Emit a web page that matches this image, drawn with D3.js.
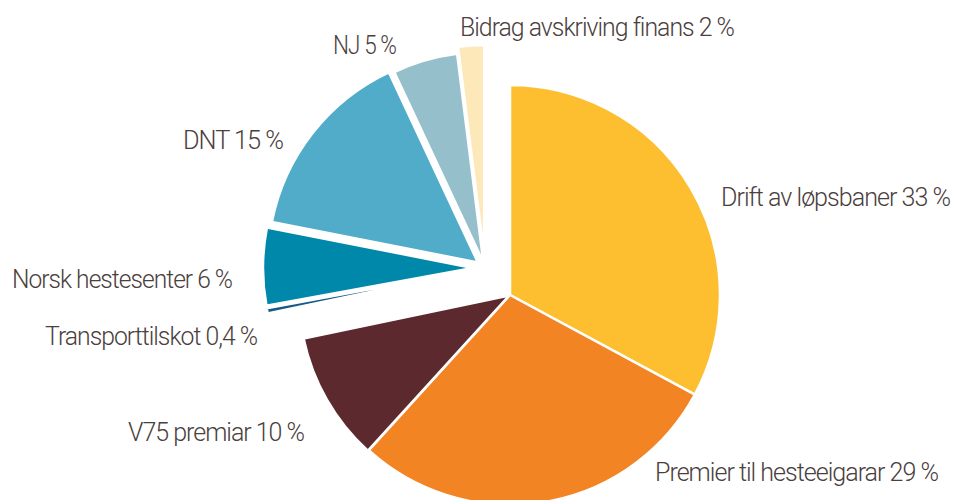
<!DOCTYPE html>
<html>
<head>
<meta charset="utf-8">
<script src="https://cdn.jsdelivr.net/npm/d3@7"></script>
<style>
  body { margin: 0; background: #fff; }
  text { font-family: Roboto, "Open Sans", sans-serif; font-weight: 300; fill: #4a403d; letter-spacing: -1px; }
</style>
</head>
<body>
<svg id="svg" width="953" height="500"></svg>
<script>
var svg = d3.select("#svg");

// data
var categories = ["Drift av løpsbaner", "Premier til hesteeigarar", "V75 premiar", "Transporttilskot",
                  "Norsk hestesenter", "DNT", "NJ", "Bidrag avskriving finans"];
var shares = [33, 29, 10, 0.4, 6, 15, 5, 2];
var shareLabels = ["33 %", "29 %", "10 %", "0,4 %", "6 %", "15 %", "5 %", "2 %"];
var colors = ["#fdbf2f", "#f38423", "#5c292e", "#125c86", "#0088ab", "#50acc8", "#95bfcb", "#fde8ba"];

// layout
var cx = 510, cy = 295, radius = 210;
var groupShift = [-25, -27];          // the detached group of small items
var detached = [3, 4, 5, 6, 7];
var explode = [0, 0, 1, 12, 12, 9, 6, 13];
var labelPos = [
  [721, 206, 229], [655, 481, 283], [128, 441, 176], [45, 345, 212],
  [12, 288, 220], [183, 149, 100], [333, 54, 63], [460, 36, 274]
];

var rows = categories.map(function (c, i) { return {i: i, name: c, value: shares[i]}; });

var pie = d3.pie().sort(null).value(function (d) { return d.value; });
var arc = d3.arc().innerRadius(0).outerRadius(radius);

var g = svg.append("g").attr("transform", "translate(" + cx + "," + cy + ")");

g.selectAll("path")
  .data(pie(rows))
  .enter()
  .append("path")
  .attr("d", arc)
  .attr("transform", function (d) {
    var i = d.data.i;
    var mid = (d.startAngle + d.endAngle) / 2;
    var dx = Math.sin(mid) * explode[i], dy = -Math.cos(mid) * explode[i];
    if (detached.indexOf(i) >= 0) { dx += groupShift[0]; dy += groupShift[1]; }
    return "translate(" + dx + "," + dy + ")";
  })
  .style("fill", function (d) { return colors[d.data.i]; })
  .style("stroke", "#fff")
  .style("stroke-width", 2.5)
  .style("stroke-linejoin", "round");

svg.selectAll("text.lbl")
  .data(rows)
  .enter()
  .append("text")
  .attr("class", "lbl")
  .attr("x", function (d) { return labelPos[d.i][0]; })
  .attr("y", function (d) { return labelPos[d.i][1]; })
  .attr("textLength", function (d) { return labelPos[d.i][2]; })
  .attr("lengthAdjust", "spacingAndGlyphs")
  .style("font-size", "25px")
  .text(function (d) { return d.name + " " + shareLabels[d.i]; });
</script>
</body>
</html>
